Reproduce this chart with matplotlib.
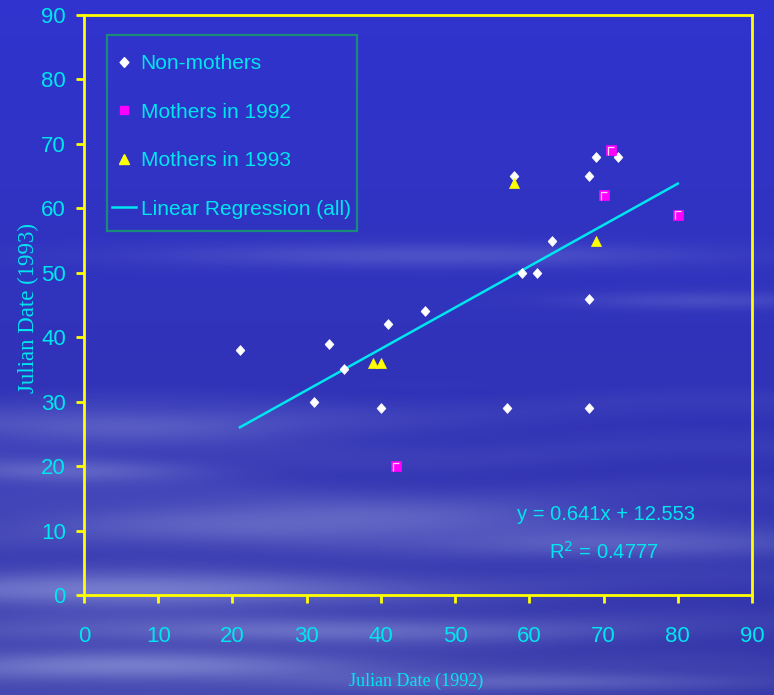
import numpy as np
import matplotlib
matplotlib.use("Agg")
import matplotlib.pyplot as plt
from matplotlib.lines import Line2D
from matplotlib.path import Path
from matplotlib.patches import Rectangle

# ---------------- data ----------------
nonmothers_x = [21, 31, 33, 35, 40, 41, 46, 57, 58, 59, 61, 63, 68, 68, 68, 69, 72]
nonmothers_y = [38, 30, 39, 35, 29, 42, 44, 29, 65, 50, 50, 55, 65, 46, 29, 68, 68]
mothers92_x = [42, 70, 71, 80]
mothers92_y = [20, 62, 69, 59]
mothers93_x = [39, 40, 58, 69]
mothers93_y = [36, 36, 64, 55]
reg_slope = 0.641
reg_intercept = 12.553
reg_r2 = 0.4777
reg_x_range = [21, 80]
x_ticks = [0, 10, 20, 30, 40, 50, 60, 70, 80, 90]
y_ticks = [0, 10, 20, 30, 40, 50, 60, 70, 80, 90]

W, H = 774, 695
fig = plt.figure(figsize=(W / 100, H / 100), dpi=100)

# ---------------- background (sky with streaky clouds) ----------------
yy, xx = np.mgrid[0:H, 0:W].astype(float)
t = yy / H
top = np.array([48, 52, 206]) / 255
bot = np.array([48, 50, 165]) / 255
img = top[None, None, :] * (1 - t[..., None]) + bot[None, None, :] * t[..., None]
cloud = np.array([150, 158, 220]) / 255
bands = [  # (y center, half-thickness, x center, x half-width, strength)
    (255, 12, 430, 280, 0.28),
    (300, 9, 700, 140, 0.22),
    (425, 16, 120, 220, 0.35),
    (470, 12, 60, 140, 0.40),
    (520, 20, 330, 280, 0.40),
    (545, 14, 650, 180, 0.30),
    (590, 16, 130, 240, 0.50),
    (630, 12, 320, 280, 0.32),
    (665, 14, 130, 220, 0.42),
    (682, 9, 560, 220, 0.28),
]
a = np.zeros((H, W))
for yc, hy, xc, hx, s in bands:
    a += s * np.exp(-((yy - yc) / hy) ** 2) * np.exp(-((xx - xc) / hx) ** 2)
a += 0.22 * np.clip((t - 0.55) / 0.45, 0, 1) * np.exp(-((xx - 150) / 500) ** 2)
a += 0.07 * (0.5 + 0.5 * np.sin(yy / 7.0 + np.sin(xx / 90.0))) * (t > 0.55)
a = np.clip(a, 0, 0.8)
img = img * (1 - a[..., None]) + cloud[None, None, :] * a[..., None]
bg = fig.add_axes([0, 0, 1, 1], zorder=-10)
bg.imshow(img, aspect="auto", extent=[0, 1, 0, 1], origin="upper")
bg.axis("off")

# ---------------- main axes ----------------
ax = fig.add_axes([84 / W, 1 - 595 / H, (752 - 84) / W, (595 - 15) / H])
ax.set_facecolor("none")

CYAN = "#00e6ef"
YEL = "#ffff00"
MAG = "#ff00ff"
sans = ["Liberation Sans", "DejaVu Sans"]
serif = ["Liberation Serif", "DejaVu Serif"]

diamond = Path([(0, 1), (0.9, 0), (0, -1), (-0.9, 0), (0, 1)],
               [Path.MOVETO, Path.LINETO, Path.LINETO, Path.LINETO, Path.CLOSEPOLY])
gamma = Path([(-0.35, -0.6), (-0.35, 0.45), (0.4, 0.45)],
             [Path.MOVETO, Path.LINETO, Path.LINETO])

ax.scatter(nonmothers_x, nonmothers_y, marker=diamond, s=50, c="white",
           edgecolors="white", linewidths=0.5, zorder=3)
ax.scatter(mothers92_x, mothers92_y, marker="s", s=42, c=MAG,
           edgecolors=MAG, linewidths=0.5, zorder=3)
ax.scatter(mothers92_x, mothers92_y, marker=gamma, s=42, facecolors="none",
           edgecolors="#f4d8f4", linewidths=0.9, zorder=4)
ax.scatter(mothers93_x, mothers93_y, marker="^", s=52, c=YEL,
           edgecolors=YEL, linewidths=0.5, zorder=3)
rx = np.array(reg_x_range, dtype=float)
ax.plot(rx, reg_slope * rx + reg_intercept, color=CYAN, lw=1.8, zorder=2)

ax.set_xlim(0, 90)
ax.set_ylim(0, 90)
ax.set_xticks(x_ticks)
ax.set_yticks(y_ticks)
for sp in ax.spines.values():
    sp.set_color(YEL)
    sp.set_linewidth(2.0)
ax.tick_params(axis="both", colors=YEL, width=2.0, length=6, direction="out",
               labelcolor=CYAN, labelsize=16)
ax.tick_params(axis="x", pad=16)
ax.tick_params(axis="y", pad=7)
for lab in ax.get_xticklabels() + ax.get_yticklabels():
    lab.set_family(sans)

ax.set_xlabel("Julian Date (1992)", color=CYAN, family=serif, fontsize=13)
ax.set_ylabel("Julian Date (1993)", color=CYAN, family=serif, fontsize=16.5)
ax.xaxis.set_label_coords((416 - 84) / 668, (595 - 681) / 580)
ax.yaxis.set_label_coords((28 - 84) / 668, (595 - 308) / 580)
ax.xaxis.label.set_va("center")
ax.yaxis.label.set_va("center")

# legend frame drawn as a rectangle
def ax_xy(px, py):
    return (px - 84) / 668, (595 - py) / 580

x0, y0 = ax_xy(107, 231)
x1, y1 = ax_xy(357, 35)
ax.add_patch(Rectangle((x0, y0), x1 - x0, y1 - y0, transform=ax.transAxes,
                       facecolor="none", edgecolor="#1a8a7a", lw=1.6,
                       zorder=5, clip_on=False))

handles = [
    Line2D([], [], ls="none", marker=diamond, ms=7, color="white"),
    Line2D([], [], ls="none", marker="s", ms=6, color=MAG),
    Line2D([], [], ls="none", marker="^", ms=7.5, color=YEL),
    Line2D([], [], color=CYAN, lw=1.8),
]
labels = ["Non-mothers", "Mothers in 1992", "Mothers in 1993",
          "Linear Regression (all)"]
leg = ax.legend(handles, labels, loc="upper left",
                bbox_to_anchor=ax_xy(112, 54),
                borderaxespad=0, borderpad=0, frameon=False,
                prop={"family": sans, "size": 15}, labelcolor=CYAN,
                handlelength=1.15, handletextpad=0.22, labelspacing=1.42)

ax.text((606 - 84) / 668, (595 - 515) / 580,
        "y = %.3fx + %.3f" % (reg_slope, reg_intercept),
        transform=ax.transAxes, ha="center", va="center", color=CYAN,
        family=sans, fontsize=14.5)
ax.text((604 - 84) / 668, (595 - 552) / 580,
        "R$^2$ = %.4f" % reg_r2,
        transform=ax.transAxes, ha="center", va="center", color=CYAN,
        family=sans, fontsize=14.5)

fig.savefig("out.png", dpi=100)
